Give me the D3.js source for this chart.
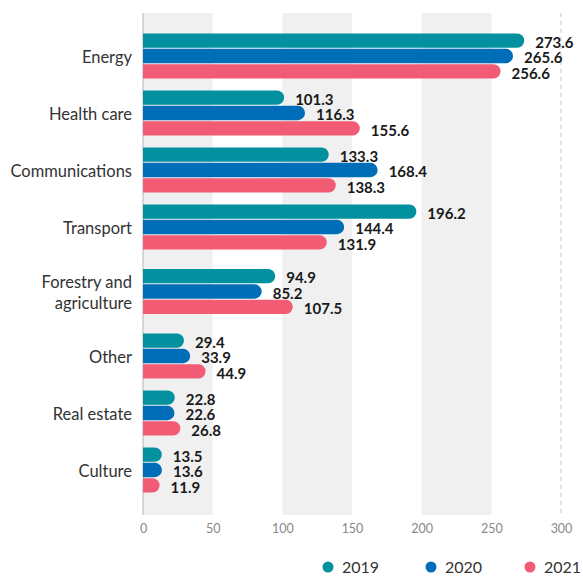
<!DOCTYPE html>
<html><head><meta charset="utf-8">
<script src="https://cdn.jsdelivr.net/npm/d3@7"></script>
<style>body{margin:0;background:#fff;}text{font-family:Lato,"Open Sans",sans-serif;}</style>
</head><body><svg id="c" width="583" height="576"></svg>
<script>
const categories = ["Energy","Health care","Communications","Transport","Forestry and\nagriculture","Other","Real estate","Culture"];
const years = ["2019","2020","2021"];
const v2019 = [273.6,101.3,133.3,196.2,94.9,29.4,22.8,13.5];
const v2020 = [265.6,116.3,168.4,144.4,85.2,33.9,22.6,13.6];
const v2021 = [256.6,155.6,138.3,131.9,107.5,44.9,26.8,11.9];
const ticks = [0,50,100,150,200,250,300];
const colors = ["#03919f","#006db8","#f15b73"];

const series = [v2019,v2020,v2021];
const svg = d3.select("#c");
const x = d3.scaleLinear().domain([0,300]).range([143,561]);
const plotTop = 13, plotBottom = 515;

const baseSlot = 57, extraPerLine = 15;
const slots = categories.map(c => baseSlot + (c.split("\n").length-1)*extraPerLine);
const starts = [];
let acc = 27.5;
slots.forEach(s => { starts.push(acc); acc += s; });
const yCenter = d3.scaleOrdinal().domain(categories).range(categories.map((c,i)=>starts[i]+slots[i]/2));
const inner = d3.scaleBand().domain(years).range([-22.5,22.5]).paddingInner(0.07);

const g = svg.append("g");
for (let i=0;i<ticks.length-1;i+=2){
  g.append("rect").attr("x",x(ticks[i])).attr("y",plotTop).attr("width",x(ticks[i+1])-x(ticks[i])).attr("height",plotBottom-plotTop).attr("fill","#f0f0f0");
}
g.append("line").attr("x1",x(300)).attr("x2",x(300)).attr("y1",plotTop).attr("y2",plotBottom).attr("stroke","#c8c8c8").attr("stroke-dasharray","4,4");
g.append("line").attr("x1",x(0)).attr("x2",x(0)).attr("y1",plotTop).attr("y2",plotBottom).attr("stroke","#b5b5b5");

const ax = svg.append("g").attr("transform",`translate(0,${plotBottom})`)
  .call(d3.axisBottom(x).tickValues(ticks).tickSize(0).tickPadding(9));
ax.select(".domain").remove();
ax.selectAll("text").attr("fill","#888").attr("font-size",12.5).style("font-family","Lato, sans-serif");

categories.forEach((c,ci)=>{
  years.forEach((yr,si)=>{
    const val = series[si][ci];
    const y0 = yCenter(c)+inner(yr);
    const h = inner.bandwidth();
    const x1 = x(val), x0 = x(0), r = h/2;
    svg.append("path")
      .attr("d",`M${x0},${y0}H${x1-r}A${r},${r} 0 0 1 ${x1-r},${y0+h}H${x0}Z`)
      .attr("fill",colors[si]);
    svg.append("text").attr("x",x1+11).attr("y",y0+h/2+2).attr("dy","0.35em")
      .attr("font-size",15).attr("font-weight","bold").attr("fill","#1a1a1a").text(val.toFixed(1));
  });
  const lines = c.split("\n");
  const t = svg.append("text").attr("x",132).attr("text-anchor","end").attr("font-size",16.5).attr("fill","#333");
  lines.forEach((l,li)=>{
    t.append("tspan").attr("x",132).attr("y",yCenter(c)+1+(li-(lines.length-1)/2)*21).attr("dy","0.35em").text(l);
  });
});

const lg = svg.append("g");
const lx = [328,431,530];
years.forEach((yr,i)=>{
  lg.append("circle").attr("cx",lx[i]).attr("cy",567).attr("r",5.5).attr("fill",colors[i]);
  lg.append("text").attr("x",lx[i]+14).attr("y",567).attr("dy","0.35em").attr("font-size",16).attr("fill","#333").text(yr);
});
</script></body></html>
